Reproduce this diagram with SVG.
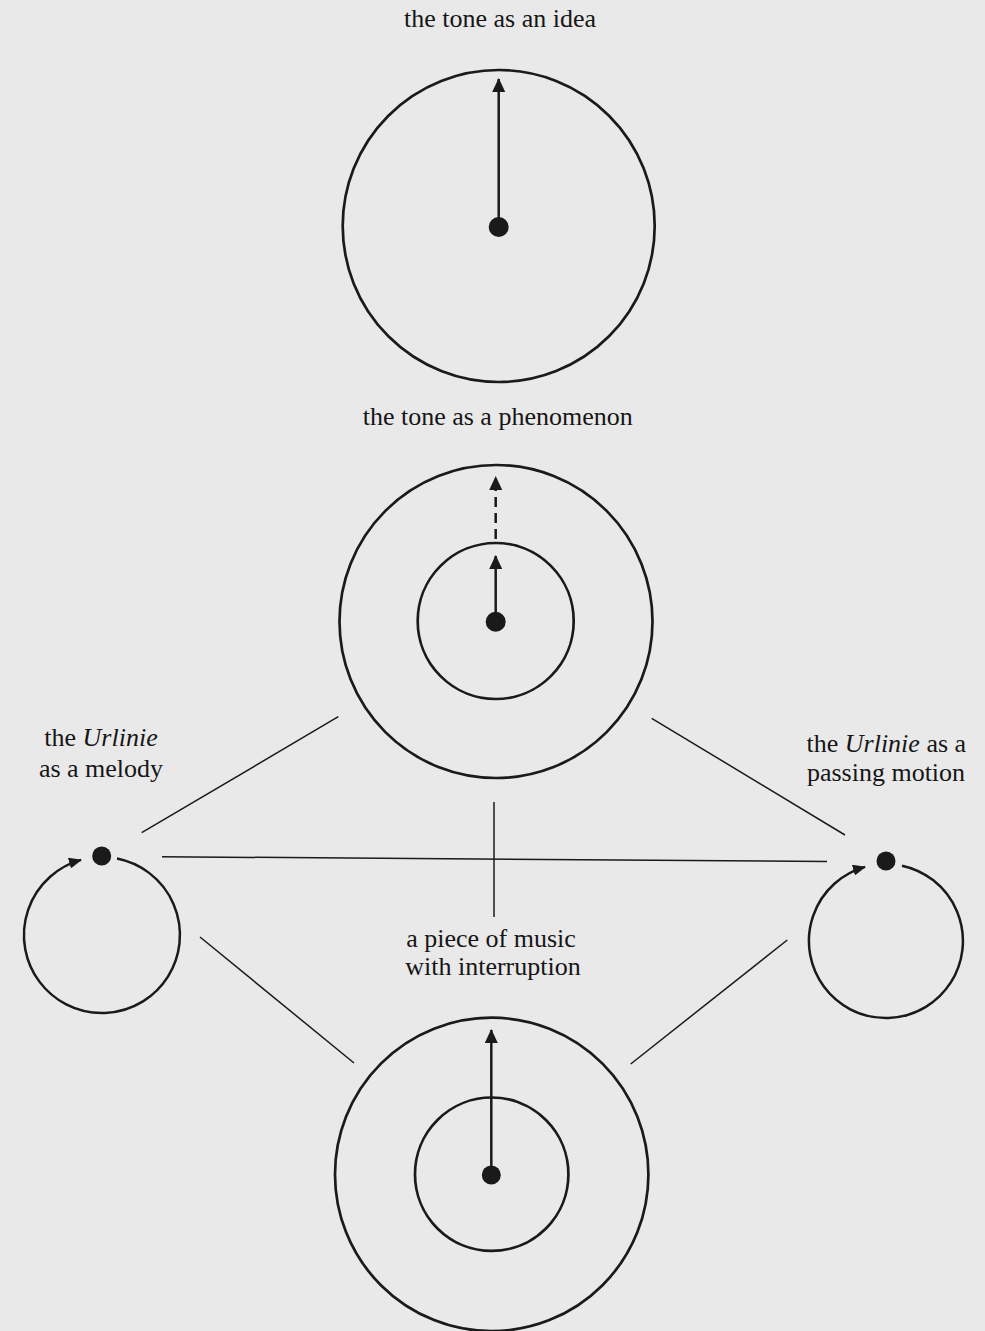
<svg xmlns="http://www.w3.org/2000/svg" width="985" height="1331" viewBox="0 0 985 1331">
  <style>
    .ring { fill: none; stroke: #1a1a1a; stroke-width: 2.7; }
    .shaft { fill: none; stroke: #1a1a1a; stroke-width: 2.5; }
    .dot { fill: #1a1a1a; }
    .conn { fill: none; stroke: #1a1a1a; stroke-width: 1.5; }
    .lbl { font-family: "Liberation Serif", "Times New Roman", serif; font-size: 26px; fill: #161616; text-anchor: middle; }
    .it { font-style: italic; }
  </style>
  <defs>
    <marker id="ah" markerUnits="userSpaceOnUse" markerWidth="14" markerHeight="13" viewBox="0 0 14 13" refX="13" refY="6.5" orient="auto">
      <path d="M0,0 L14,6.5 L0,13 Z" fill="#1a1a1a"/>
    </marker>
    <marker id="ahs" markerUnits="userSpaceOnUse" markerWidth="13" markerHeight="11" viewBox="0 0 13 11" refX="12" refY="5.5" orient="auto">
      <path d="M0,0 L13,5.5 L0,11 Z" fill="#1a1a1a"/>
    </marker>
  </defs>
  <rect x="0" y="0" width="985" height="1331" fill="#e9e9e9"/>

  <g id="connectors">
    <line class="conn" x1="141.7" y1="832.7" x2="338.3" y2="716.7"/>
    <line class="conn" x1="651.7" y1="718.3" x2="845" y2="835"/>
    <line class="conn" x1="200" y1="937" x2="354" y2="1063"/>
    <line class="conn" x1="787.3" y1="940" x2="630.7" y2="1064"/>
    <line class="conn" x1="162" y1="856.7" x2="827" y2="861.5"/>
    <line class="conn" x1="494" y1="802" x2="494" y2="917"/>
  </g>

  <g id="node-idea">
    <text class="lbl" x="500" y="27">the tone as an idea</text>
    <circle class="ring" cx="498.7" cy="226" r="156"/>
    <line class="shaft" x1="498.7" y1="218" x2="498.7" y2="79" marker-end="url(#ah)"/>
    <circle class="dot" cx="498.7" cy="227" r="10"/>
  </g>

  <g id="node-phenomenon">
    <text class="lbl" x="497.7" y="424.5">the tone as a phenomenon</text>
    <circle class="ring" cx="496" cy="621.5" r="156.5"/>
    <circle class="ring" cx="495.7" cy="621" r="78"/>
    <line class="shaft" x1="495.7" y1="614" x2="495.7" y2="556" marker-end="url(#ah)"/>
    <line class="shaft" x1="495.7" y1="539" x2="495.7" y2="477" stroke-dasharray="10 6" marker-end="url(#ah)"/>
    <circle class="dot" cx="495.7" cy="621.7" r="10"/>
  </g>

  <g id="node-melody">
    <text class="lbl" x="101" y="745.5">the <tspan class="it">Urlinie</tspan></text>
    <text class="lbl" x="101" y="777">as a melody</text>
    <path class="shaft" d="M117,858.5 A78,78 0 1 1 81,859.9" marker-end="url(#ahs)"/>
    <circle class="dot" cx="101.7" cy="856" r="9.5"/>
  </g>

  <g id="node-passing">
    <text class="lbl" x="886.3" y="752">the <tspan class="it">Urlinie</tspan> as a</text>
    <text class="lbl" x="886" y="780.5">passing motion</text>
    <path class="shaft" d="M902,865.7 A77,77 0 1 1 865,866.9" marker-end="url(#ahs)"/>
    <circle class="dot" cx="886" cy="861" r="9.5"/>
  </g>

  <g id="node-piece">
    <text class="lbl" x="491" y="946.7">a piece of music</text>
    <text class="lbl" x="493" y="975">with interruption</text>
    <circle class="ring" cx="491.7" cy="1174.4" r="156.7"/>
    <circle class="ring" cx="491.7" cy="1174.2" r="76.7"/>
    <line class="shaft" x1="491.3" y1="1168" x2="491.3" y2="1030" marker-end="url(#ah)"/>
    <circle class="dot" cx="491.3" cy="1175" r="9.5"/>
  </g>
</svg>
